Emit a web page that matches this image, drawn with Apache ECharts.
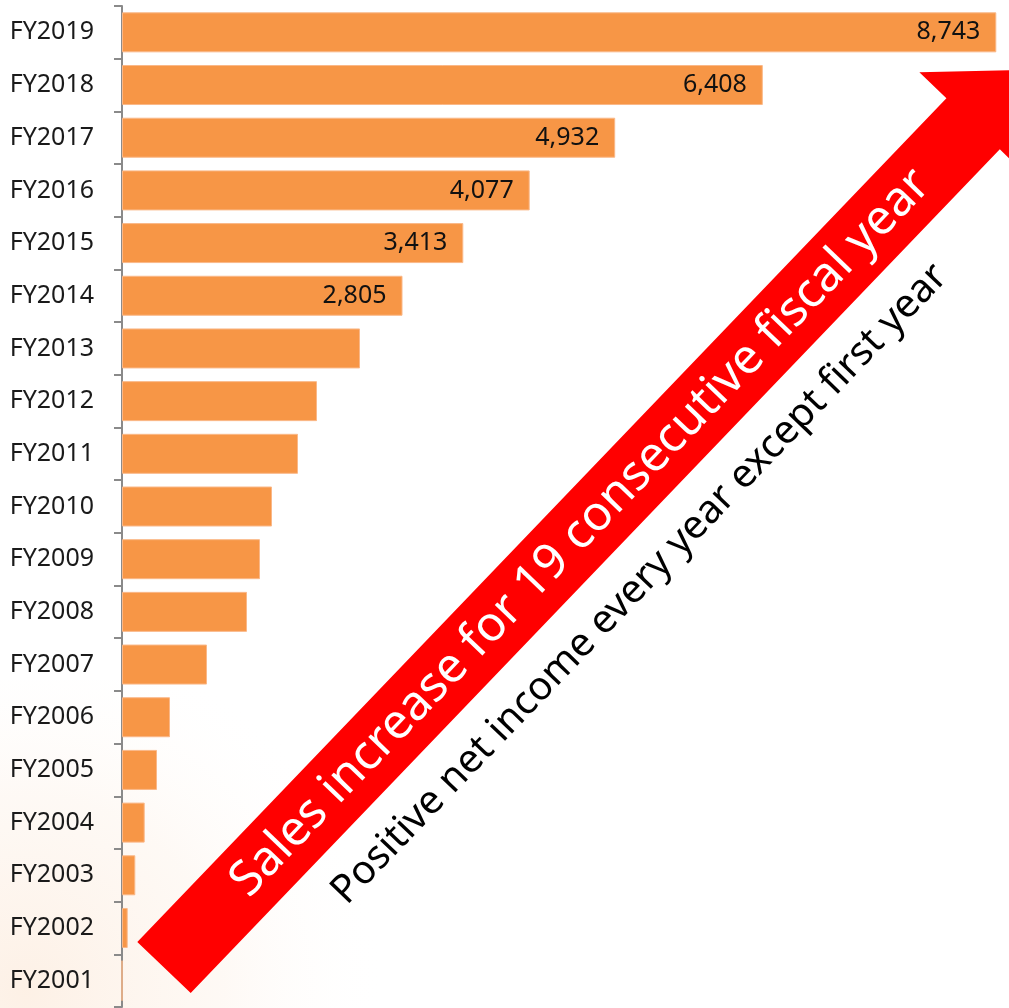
<!DOCTYPE html>
<html>
<head>
<meta charset="utf-8">
<title>Sales by fiscal year</title>
<script src="https://cdn.jsdelivr.net/npm/echarts@6/dist/echarts.min.js"></script>
<style>
  html, body { margin: 0; padding: 0; background: #ffffff; }
  #chart { width: 1009px; height: 1008px; }
</style>
</head>
<body>
<div id="chart"></div>
<script>
// Fiscal years, bottom to top
const categories = [
  'FY2001', 'FY2002', 'FY2003', 'FY2004', 'FY2005', 'FY2006', 'FY2007',
  'FY2008', 'FY2009', 'FY2010', 'FY2011', 'FY2012', 'FY2013', 'FY2014',
  'FY2015', 'FY2016', 'FY2017', 'FY2018', 'FY2019'
];

// Annual sales
const sales = [
  0, 57, 133, 227, 350, 480, 850,
  1250, 1380, 1500, 1760, 1950, 2380, 2805,
  3413, 4077, 4932, 6408, 8743
];

// Years whose value is printed on the bar
const labelledYears = ['FY2014', 'FY2015', 'FY2016', 'FY2017', 'FY2018', 'FY2019'];

const headline = 'Sales increase for 19 consecutive fiscal year';
const subline = 'Positive net income every year except first year';

const FONT = '"Noto Sans", "Open Sans", sans-serif';

// Arrow geometry: built along its own axis from the tail centre
const arrowAngle = 46.2 * Math.PI / 180;
const ux = Math.cos(arrowAngle), uy = -Math.sin(arrowAngle);
const nx = -Math.sin(arrowAngle), ny = -Math.cos(arrowAngle);
const tail = [164, 967.5];
const shaftLen = 1169, shaftHalf = 37, headHalf = 74.5, headLen = 74.5;
function along(a, b) {
  return [tail[0] + a * ux + b * nx, tail[1] + a * uy + b * ny];
}
const arrowPoints = [
  along(0, shaftHalf),
  along(shaftLen, shaftHalf),
  along(shaftLen, headHalf),
  along(shaftLen + headLen, 0),
  along(shaftLen, -headHalf),
  along(shaftLen, -shaftHalf),
  along(0, -shaftHalf)
];
const headlinePos = along(602, 0);
const sublinePos = along(606, -78);

const chart = echarts.init(document.getElementById('chart'), null, { renderer: 'canvas' });

const fmt = v => v.toLocaleString('en-US');

chart.setOption({
  backgroundColor: '#ffffff',
  animation: false,
  grid: { left: 122, right: 7, top: 6, bottom: 1 },
  xAxis: {
    type: 'value',
    min: 0,
    max: 8800,
    show: false,
    splitLine: { show: false }
  },
  yAxis: {
    type: 'category',
    data: categories,
    axisLine: { show: true, lineStyle: { color: '#8a8a8a', width: 2 } },
    axisTick: { show: true, length: 8, lineStyle: { color: '#8a8a8a', width: 2 } },
    axisLabel: {
      color: '#1a1a1a',
      fontSize: 25,
      fontFamily: FONT,
      margin: 28,
      padding: [5, 0, 0, 0]
    },
    splitLine: { show: false }
  },
  series: [{
    type: 'bar',
    barWidth: 40,
    z: 2,
    itemStyle: { color: '#F79646', borderColor: '#fab888', borderWidth: 1 },
    data: sales.map((v, i) => ({
      value: v,
      label: {
        show: labelledYears.includes(categories[i]),
        position: 'insideRight',
        distance: 16,
        color: '#111111',
        fontSize: 25,
        fontFamily: FONT,
        padding: [6, 0, 0, 0],
        formatter: p => fmt(p.value)
      }
    }))
  }],
  graphic: [
    {
      type: 'rect',
      z: -10,
      silent: true,
      shape: { x: 0, y: 680, width: 520, height: 328 },
      style: {
        fill: {
          type: 'radial', x: 0.05, y: 0.95, r: 1.1,
          colorStops: [
            { offset: 0, color: 'rgba(251,226,204,0.5)' },
            { offset: 0.55, color: 'rgba(252,236,222,0.3)' },
            { offset: 1, color: 'rgba(255,255,255,0)' }
          ]
        }
      }
    },
    {
      type: 'polygon',
      z: 10,
      silent: true,
      shape: { points: arrowPoints },
      style: { fill: '#ff0000' }
    },
    {
      type: 'text',
      z: 11,
      silent: true,
      x: headlinePos[0],
      y: headlinePos[1],
      rotation: arrowAngle,
      style: {
        text: headline,
        fill: '#ffffff',
        font: '48.5px ' + FONT,
        align: 'center',
        verticalAlign: 'middle',
        textAlign: 'center',
        textVerticalAlign: 'middle'
      }
    },
    {
      type: 'text',
      z: 11,
      silent: true,
      x: sublinePos[0],
      y: sublinePos[1],
      rotation: arrowAngle,
      style: {
        text: subline,
        fill: '#000000',
        font: '39.5px ' + FONT,
        align: 'center',
        verticalAlign: 'middle',
        textAlign: 'center',
        textVerticalAlign: 'middle'
      }
    }
  ]
});
</script>
</body>
</html>
